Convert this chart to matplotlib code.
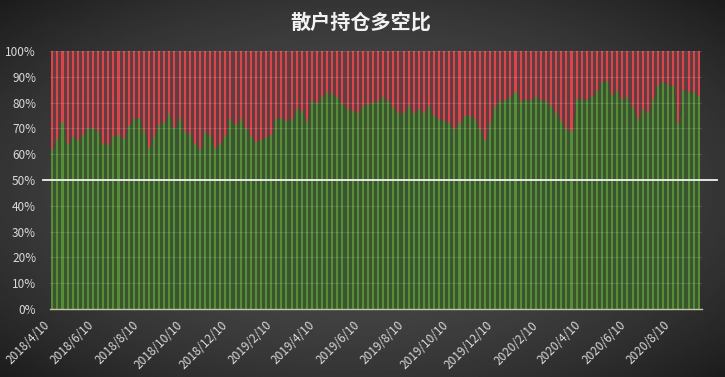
import numpy as np
import pandas as pd
import matplotlib
matplotlib.use('Agg')
import matplotlib.pyplot as plt
import matplotlib.dates as mdates
from matplotlib.ticker import FuncFormatter

plt.rcParams['font.family'] = ['Noto Sans CJK SC', 'DejaVu Sans']

# weekly data, long share (%) of retail positions
start_date = '2018-04-10'
long_pct = [
    62, 66, 72.5, 64, 67, 65.5, 67.4, 70, 70, 69,
    64, 63.5, 67, 67.5, 66, 71, 73.5, 74, 69, 62.5,
    67, 71.5, 72.5, 75.5, 70, 74, 68.5, 68, 64, 62,
    68.5, 67.4, 62.5, 64, 67, 73.5, 71.5, 73.5, 70, 67,
    64.7, 65.4, 66.7, 67.4, 73.6, 74.2, 73, 73.6, 77.5, 76.7,
    73, 80.7, 80, 82, 84, 83.3, 82, 79.5, 77.5, 76.7,
    76, 78.7, 79.5, 80, 80.7, 82, 80.7, 78, 76, 76,
    78.7, 76, 77.5, 76, 78.7, 75, 73.6, 73, 72.2, 69.8,
    72.2, 75, 75, 73.6, 69.8, 65.4, 72, 78.4, 80.7, 81,
    82, 84, 80.7, 81, 81, 82, 81, 80.7, 78.7, 76,
    73, 69.8, 69, 81.4, 81.4, 81, 82.6, 84.5, 87.8, 88.4,
    83, 84.5, 81.4, 82, 78.4, 73.6, 77.5, 76, 81.4, 87,
    87.8, 87, 86.4, 72.2, 85, 84, 84, 82.6,
]
short_pct = [100 - v for v in long_pct]
dates = pd.date_range(start_date, periods=len(long_pct), freq='7D')
tick_years = [2018] * 5 + [2019] * 6 + [2020] * 4
tick_months = [4, 6, 8, 10, 12, 2, 4, 6, 8, 10, 12, 2, 4, 6, 8]
tick_dates = [pd.Timestamp(y, m, 10) for y, m in zip(tick_years, tick_months)]

fig = plt.figure(figsize=(7.25, 3.77), dpi=100)

# dark radial background
bg = fig.add_axes([0, 0, 1, 1], zorder=-10)
yy, xx = np.mgrid[-1:1:200j, -1:1:400j]
r2 = xx ** 2 + yy ** 2
bg.imshow(np.clip(0.30 - 0.095 * r2, 0, 1), cmap='gray', vmin=0, vmax=1,
          aspect='auto', extent=[0, 1, 0, 1], interpolation='bilinear')
bg.axis('off')

ax = fig.add_axes([50 / 725, 68 / 377, 652 / 725, 258 / 377])
ax.set_facecolor('none')

x = mdates.date2num(dates)
# smooth darker band behind the columns
ax.fill_between(x, 0, long_pct, color='#3a5530', lw=0, zorder=1)
ax.fill_between(x, long_pct, 100, color='#613d40', lw=0, zorder=1)
ax.bar(x, long_pct, width=2.8, color='#588d37', lw=0, zorder=2)
ax.bar(x, short_pct, width=2.8, bottom=long_pct, color='#d9454b', lw=0, zorder=2)

for v in range(10, 101, 10):
    ax.axhline(v, color='white', alpha=0.12, lw=0.8, zorder=3)
ax.axhline(50, xmin=-0.011, xmax=1.023, color='#f2f2f2', lw=1.3, zorder=4, clip_on=False)

ax.set_xlim(x[0] - 3.2, x[-1] + 4.5)
ax.set_ylim(0, 100)
ax.set_yticks(range(0, 101, 10))
ax.yaxis.set_major_formatter(FuncFormatter(lambda v, p: f'{int(v)}%'))
ax.set_xticks(mdates.date2num(tick_dates))
ax.set_xticklabels([f'{d.year}/{d.month}/{d.day}' for d in tick_dates],
                   rotation=45, ha='right', va='top')
ax.tick_params(axis='both', length=0, colors='#d9d9d9', labelsize=8.5)
ax.tick_params(axis='x', pad=7, labelsize=8.5)
ax.tick_params(axis='y', pad=10)
for s in ['top', 'right', 'left']:
    ax.spines[s].set_visible(False)
ax.spines['bottom'].set_color('#c8c2a8')
ax.spines['bottom'].set_linewidth(1)
ax.spines['bottom'].set_zorder(5)

fig.text(0.497, 0.942, '散户持仓多空比', ha='center', va='center',
         color='#f2f2f2', fontsize=14.5, fontweight='bold')

fig.savefig('out.png', dpi=100)
